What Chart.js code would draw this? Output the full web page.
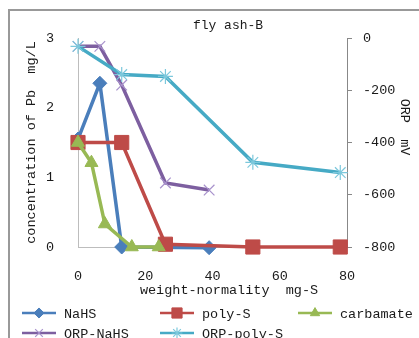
<!DOCTYPE html>
<html>
<head>
<meta charset="utf-8">
<script src="https://cdn.jsdelivr.net/npm/chart.js@4.4.1/dist/chart.umd.min.js"></script>
<style>
  html, body { margin: 0; padding: 0; background: #fff; overflow: hidden; }
  #wrap { position: relative; width: 419px; height: 338px; }
</style>
</head>
<body>
<div id="wrap"><canvas id="pbChart" width="419" height="338"></canvas></div>
<script>
// dose (mg-S) and Pb concentration (mg/L) per reagent
const nahsDose = [0, 6.5, 13, 39];
const nahsPb = [1.55, 2.35, 0, -0.01];
const polyDose = [0, 13, 26, 52, 78];
const polyPb = [1.5, 1.5, 0.04, 0, 0];
const carbDose = [0, 4, 8, 16, 24];
const carbPb = [1.5, 1.21, 0.33, 0, 0];
// ORP (mV), right axis
const orpNahsDose = [0, 6.5, 13, 26, 39];
const orpNahs = [-32, -32, -180, -555, -582];
const orpPolyDose = [0, 13, 26, 52, 78];
const orpPoly = [-32, -140, -147, -476, -515];

const xTicks = [0, 20, 40, 60, 80];
const pbTicks = [0, 1, 2, 3];
const orpTicks = [-800, -600, -400, -200, 0];

const FONT = "'Liberation Mono', 'DejaVu Sans Mono', monospace";
const TEXT = '#1a1a1a';
Chart.defaults.font.family = FONT;
Chart.defaults.font.size = 13.5;
Chart.defaults.color = TEXT;

function pts(xs, ys) {
  return xs.map((x, i) => ({x: x, y: ys[i]}));
}

function series(label, xs, ys, color, style, radius, axis, order, markColor, markWidth) {
  return {
    label: label,
    data: pts(xs, ys),
    yAxisID: axis,
    borderColor: color,
    backgroundColor: color,
    borderWidth: 3.5,
    pointStyle: style,
    pointRadius: radius,
    pointHoverRadius: radius,
    pointBackgroundColor: markColor || color,
    pointBorderColor: markColor || color,
    pointBorderWidth: markWidth || 1,
    tension: 0,
    clip: false,
    order: order
  };
}

// title, axis titles that sit off-centre, legend and the outer frame
const sheetPlugin = {
  id: 'sheet',
  afterDraw(chart) {
    const ctx = chart.ctx;
    ctx.save();
    ctx.fillStyle = '#999';
    ctx.fillRect(8, 9, 411, 2);
    ctx.fillRect(8, 9, 2, 329);

    ctx.fillStyle = TEXT;
    ctx.font = '13px ' + FONT;
    ctx.textAlign = 'center';
    ctx.textBaseline = 'middle';
    ctx.fillText('fly ash-B', 228, 26);

    ctx.font = '13.5px ' + FONT;
    ctx.fillText('weight-normality  mg-S', 229, 290);

    ctx.save();
    ctx.translate(405, 127);
    ctx.rotate(Math.PI / 2);
    ctx.fillText('ORP  mV', 0, 0);
    ctx.restore();

    const cols = [22, 160, 298], rows = [313, 333];
    chart.data.datasets.forEach((ds, i) => {
      const x = cols[i % 3], y = rows[Math.floor(i / 3)];
      ctx.strokeStyle = ds.borderColor;
      ctx.lineWidth = 2.5;
      ctx.beginPath();
      ctx.moveTo(x, y);
      ctx.lineTo(x + 34, y);
      ctx.stroke();
      ctx.fillStyle = ds.pointBackgroundColor;
      ctx.strokeStyle = ds.pointBorderColor;
      ctx.lineWidth = ds.pointBorderWidth;
      Chart.helpers.drawPoint(ctx, {
        pointStyle: ds.pointStyle,
        radius: ds.pointRadius * 0.72,
        borderWidth: ds.pointBorderWidth,
        rotation: 0
      }, x + 17, y);
      ctx.fillStyle = TEXT;
      ctx.font = '13.5px ' + FONT;
      ctx.textAlign = 'left';
      ctx.fillText(ds.label, x + 42, y + 1);
    });
    ctx.restore();
  }
};

const ctx = document.getElementById('pbChart');
const pbChart = new Chart(ctx, {
  type: 'line',
  data: {
    datasets: [
      series('NaHS', nahsDose, nahsPb, '#4a7ebb', 'rectRot', 7, 'y', 5),
      series('poly-S', polyDose, polyPb, '#be4b48', 'rect', 10, 'y', 4),
      series('carbamate', carbDose, carbPb, '#98b954', 'triangle', 7.5, 'y', 3),
      series('ORP-NaHS', orpNahsDose, orpNahs, '#7d5fa0', 'crossRot', 7.5, 'y1', 2, '#a892cc', 1.2),
      series('ORP-poly-S', orpPolyDose, orpPoly, '#46aac5', 'star', 7.5, 'y1', 1, '#7cc8dc', 1.2)
    ]
  },
  options: {
    responsive: false,
    animation: false,
    layout: {padding: {top: 38, left: 0, right: 0, bottom: 0}},
    plugins: {
      legend: {display: false},
      title: {display: false},
      tooltip: {enabled: false}
    },
    scales: {
      x: {
        type: 'linear',
        min: 0,
        max: 80,
        afterBuildTicks: (s) => { s.ticks = xTicks.map(v => ({value: v})); },
        ticks: {padding: 13},
        grid: {display: false},
        border: {display: true, color: '#bdbdbd', width: 1},
        afterFit: (s) => { s.height = 91; }
      },
      y: {
        position: 'left',
        min: 0,
        max: 3,
        afterBuildTicks: (s) => { s.ticks = pbTicks.map(v => ({value: v})); },
        ticks: {padding: 16},
        grid: {display: false},
        border: {display: true, color: '#bdbdbd', width: 1},
        title: {display: true, text: 'concentration of Pb  mg/L', padding: {top: 23.6, bottom: 0}},
        afterFit: (s) => { s.width = 78; }
      },
      y1: {
        position: 'right',
        min: -800,
        max: 0,
        afterBuildTicks: (s) => { s.ticks = orpTicks.map(v => ({value: v})); },
        ticks: {padding: 11},
        grid: {drawOnChartArea: false, tickLength: 5, color: '#888'},
        border: {display: true, color: '#888', width: 1},
        afterFit: (s) => { s.width = 72; }
      }
    }
  },
  plugins: [sheetPlugin]
});
</script>
</body>
</html>
